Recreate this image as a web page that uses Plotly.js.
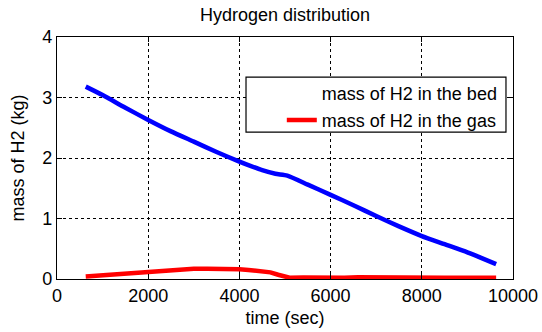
<!DOCTYPE html>
<html>
<head>
<meta charset="utf-8">
<script src="https://cdn.plot.ly/plotly-3.0.1.min.js"></script>
<style>html,body{margin:0;padding:0;background:#fff;}#chart{width:542px;height:332px;}</style>
</head>
<body>
<div id="chart"></div>
<script>
// Data
const bedTime = [630, 1000, 1500, 2000, 2500, 3000, 3500, 4000, 4240, 4500, 4790, 5050, 5500, 6000, 6500, 7000, 7500, 8000, 8500, 9000, 9300, 9630];
const bedMass = [3.18, 3.04, 2.83, 2.63, 2.44, 2.27, 2.10, 1.94, 1.87, 1.80, 1.74, 1.71, 1.56, 1.39, 1.22, 1.04, 0.87, 0.71, 0.575, 0.44, 0.35, 0.245];

const gasTime = [630, 800, 1000, 1300, 1500, 1800, 2000, 2300, 2500, 2800, 3000, 3300, 3500, 3800, 4000, 4200, 4400, 4680, 4850, 4970, 5100, 5400, 5700, 6000, 6300, 6600, 7000, 7300, 7600, 8000, 8500, 9000, 9630];
const gasMass = [0.04, 0.05, 0.06, 0.08, 0.09, 0.11, 0.13, 0.14, 0.15, 0.16, 0.17, 0.17, 0.17, 0.165, 0.16, 0.15, 0.14, 0.11, 0.07, 0.04, 0.02, 0.025, 0.02, 0.03, 0.02, 0.03, 0.025, 0.03, 0.02, 0.025, 0.02, 0.02, 0.02];

const seriesNames = ["mass of H2 in the bed", "mass of H2 in the gas"];
const xTicks = [0, 2000, 4000, 6000, 8000, 10000];
const yTicks = [0, 1, 2, 3, 4];

const font = {family: "Liberation Sans, Arial, sans-serif", size: 18, color: "#000"};

const traces = [
  {x: bedTime, y: bedMass, mode: "lines", line: {color: "#0000ff", width: 4.5, shape: "spline", smoothing: 0.6}, showlegend: false, name: seriesNames[0]},
  {x: gasTime, y: gasMass, mode: "lines", line: {color: "#ff0000", width: 4.5}, showlegend: false, name: seriesNames[1]},
  {x: [null], y: [null], mode: "lines", line: {color: "rgba(0,0,0,0)", width: 4.5}, name: seriesNames[0], legendgroup: "a"},
  {x: [null], y: [null], mode: "lines", line: {color: "#ff0000", width: 4.5}, name: seriesNames[1], legendgroup: "b"}
];

const axisCommon = {
  showline: true, mirror: "allticks", linecolor: "#000", linewidth: 1.2,
  ticks: "inside", ticklen: 5, tickcolor: "#000", tickwidth: 1,
  showgrid: true, gridcolor: "#000", gridwidth: 1, griddash: "dot",
  zeroline: false, tickfont: font
};

const layout = {
  width: 542, height: 332,
  margin: {l: 57, r: 29, t: 37, b: 52.5},
  paper_bgcolor: "#fff", plot_bgcolor: "#fff",
  font: font,
  title: {text: "Hydrogen distribution", font: font, x: 0.5, xref: "paper", xanchor: "center", y: 1, yref: "container", yanchor: "top", pad: {t: 8}},
  xaxis: Object.assign({}, axisCommon, {range: [0, 10000], tickvals: xTicks, ticktext: xTicks.map(String), title: {text: "time (sec)", font: font, standoff: 6}}),
  yaxis: Object.assign({}, axisCommon, {range: [0, 4], tickvals: yTicks, ticktext: yTicks.map(String), title: {text: "mass of H2 (kg)", font: font, standoff: 12}}),
  legend: {x: 0.493, xanchor: "left", y: 0.845, yanchor: "top", bgcolor: "rgba(0,0,0,0)", borderwidth: 0, font: font, traceorder: "grouped", tracegroupgap: 1},
  shapes: [{type: "rect", xref: "paper", yref: "paper", x0: 0.4145, x1: 0.9846, y0: 0.607, y1: 0.834, line: {color: "#000", width: 1.2}, fillcolor: "#fff", layer: "above"}],
  showlegend: true
};

Plotly.newPlot("chart", traces, layout, {displayModeBar: false, staticPlot: true});
</script>
</body>
</html>
